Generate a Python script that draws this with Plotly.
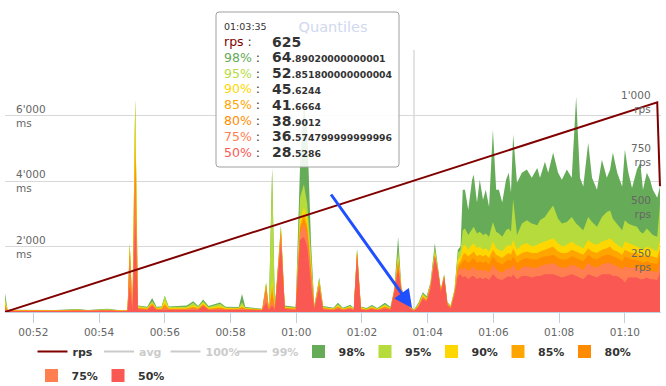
import plotly.graph_objects as go

DAY = "2024-01-01 "

# ---------------- data ----------------
times = [
    "00:51:08", "00:51:13", "00:52:40", "00:53:20", "00:53:40", "00:54:15", "00:54:35", "00:54:52", "00:54:56", "00:55:01",
    "00:55:06", "00:55:11", "00:55:28", "00:55:37", "00:55:45", "00:55:54", "00:56:00", "00:56:07", "00:56:40", "00:56:52",
    "00:57:01", "00:57:10", "00:57:20", "00:57:41", "00:57:51", "00:58:15", "00:58:21", "00:58:27", "00:58:58", "00:59:05",
    "00:59:10", "00:59:16", "00:59:21", "00:59:32", "00:59:39", "00:59:59", "01:00:07", "01:00:14", "01:00:20", "01:00:27",
    "01:00:33", "01:00:42", "01:00:49", "01:01:08", "01:01:16", "01:01:25", "01:01:39", "01:01:45", "01:01:51", "01:01:58",
    "01:02:08", "01:02:18", "01:02:28", "01:02:42", "01:02:52", "01:02:59", "01:03:06", "01:03:12", "01:03:20", "01:03:28",
    "01:03:35", "01:03:43", "01:03:51", "01:03:58", "01:04:05", "01:04:13", "01:04:19", "01:04:24", "01:04:30", "01:04:36",
    "01:04:42", "01:04:49", "01:04:55", "01:05:00",
    "01:05:04", "01:05:08", "01:05:14", "01:05:21", "01:05:24", "01:05:30", "01:05:35", "01:05:41", "01:05:46", "01:05:52",
    "01:05:59", "01:06:05", "01:06:10", "01:06:16", "01:06:23", "01:06:28", "01:06:32", "01:06:36", "01:06:43", "01:06:52",
    "01:07:01", "01:07:10", "01:07:20", "01:07:25", "01:07:34", "01:07:40", "01:07:49", "01:07:58", "01:08:05", "01:08:14",
    "01:08:23", "01:08:31", "01:08:38", "01:08:44", "01:08:53", "01:09:00", "01:09:09", "01:09:18", "01:09:27", "01:09:33",
    "01:09:38", "01:09:46", "01:09:55", "01:10:00", "01:10:06", "01:10:13", "01:10:22", "01:10:28", "01:10:33", "01:10:40",
    "01:10:46", "01:10:51", "01:10:59", "01:11:04",
]

p98 = [
    600, 70, 60, 90, 60, 100, 60, 60, 2100, 90,
    6500, 200, 160, 430, 160, 170, 500, 170, 200, 330,
    180, 380, 180, 290, 160, 150, 550, 150, 100, 900,
    100, 4400, 150, 2650, 200, 150, 4500, 6300, 5600, 2100,
    200, 1050, 180, 130, 280, 130, 220, 100, 1950, 170,
    120, 210, 120, 280, 150, 700, 2300, 750, 380, 200,
    64.89020000000001, 280, 600, 480, 900, 2100, 1350, 700, 1150, 300,
    200, 700, 1900, 2000,
    3730, 3730, 3120, 4040, 4190, 3340, 4040, 3430, 3730, 3210,
    5570, 3730, 3730, 3340, 4040, 4250, 3640, 5420, 3950, 4250,
    4350, 4100, 4400, 4100, 4590, 4250, 4870, 4250, 4040, 4350,
    4100, 6580, 4100, 3830, 5170, 4100, 3730, 4650, 4100, 4350,
    4870, 4250, 3830, 4960, 4280, 3790, 4350, 4560, 3730, 4250,
    4040, 3730, 3490, 3830,
]

p95 = [
    450, 60, 50, 80, 50, 85, 50, 50, 2080, 80,
    6480, 180, 140, 330, 140, 150, 480, 150, 160, 280,
    160, 330, 150, 250, 140, 130, 300, 130, 90, 880,
    90, 4350, 130, 2600, 170, 130, 3500, 3900, 3300, 1800,
    170, 1000, 160, 110, 240, 110, 190, 90, 1900, 150,
    100, 180, 100, 240, 130, 680, 1900, 720, 360, 180,
    52.851800000000004, 250, 560, 440, 850, 1950, 1300, 680, 1120, 280,
    180, 660, 1800, 1900,
    2500, 2550, 2350, 2550, 2600, 2400, 2450, 2350, 2400, 2300,
    2750, 2450, 2400, 2300, 2500, 2550, 2450, 3450, 2350, 2700,
    2800, 2700, 2650, 2800, 2900, 3050, 3250, 2850, 2700, 2750,
    2900, 2700, 2600, 2500, 2900, 2750, 2600, 2900, 3050, 3100,
    2850, 2700, 2500, 2800, 2700, 2650, 2600, 2450, 2400, 2550,
    2450, 2350, 2300, 3300,
]

p90 = [
    350, 50, 45, 70, 45, 70, 45, 45, 2050, 70,
    6450, 150, 120, 280, 120, 120, 350, 120, 130, 200,
    130, 280, 120, 180, 120, 110, 200, 110, 80, 860,
    80, 1000, 110, 2550, 150, 110, 2800, 3200, 2900, 1500,
    150, 950, 140, 100, 200, 100, 160, 80, 1850, 130,
    90, 150, 90, 200, 110, 660, 1700, 700, 340, 160,
    45.6244, 220, 520, 400, 820, 1800, 1280, 660, 1100, 260,
    160, 620, 1600, 1700,
    2000, 2050, 1900, 2050, 2100, 1950, 2000, 1900, 1950, 1850,
    2150, 1950, 1900, 1850, 2000, 2050, 2000, 2200, 1900, 2050,
    2100, 2000, 2050, 2100, 2150, 2200, 2250, 2100, 2000, 2050,
    2150, 2050, 2000, 1950, 2200, 2100, 2050, 2150, 2200, 2250,
    2150, 2050, 1950, 2150, 2100, 2050, 2000, 1950, 1900, 2000,
    1950, 1900, 1850, 2200,
]

p85 = [
    250, 45, 40, 60, 40, 60, 40, 40, 1950, 60,
    5200, 130, 100, 250, 100, 100, 250, 100, 110, 160,
    110, 240, 100, 140, 100, 100, 150, 100, 70, 820,
    70, 800, 100, 2500, 130, 100, 2650, 3000, 2650, 1400,
    130, 900, 120, 90, 170, 90, 140, 70, 1820, 110,
    80, 130, 80, 170, 100, 650, 1600, 690, 330, 150,
    41.6664, 200, 480, 380, 800, 1750, 1260, 650, 1090, 250,
    150, 600, 1450, 1550,
    1750, 1800, 1700, 1800, 1850, 1700, 1750, 1700, 1750, 1650,
    1900, 1750, 1700, 1650, 1750, 1800, 1750, 1950, 1700, 1800,
    1850, 1800, 1800, 1850, 1900, 1950, 2000, 1850, 1800, 1800,
    1900, 1850, 1800, 1750, 1950, 1850, 1800, 1900, 1950, 2000,
    1900, 1850, 1750, 1900, 1850, 1800, 1800, 1750, 1700, 1750,
    1700, 1700, 1650, 1950,
]

p80 = [
    200, 40, 38, 55, 38, 55, 38, 38, 1800, 55,
    4800, 120, 90, 230, 90, 90, 200, 90, 95, 140,
    95, 220, 90, 120, 90, 90, 130, 90, 65, 780,
    65, 600, 90, 2450, 120, 90, 2550, 2850, 2500, 1300,
    120, 850, 110, 80, 150, 80, 130, 65, 1800, 100,
    70, 120, 70, 150, 90, 640, 1500, 680, 320, 140,
    38.9012, 190, 460, 360, 780, 1720, 1250, 640, 1080, 240,
    140, 580, 1350, 1450,
    1550, 1600, 1500, 1600, 1650, 1500, 1550, 1500, 1550, 1450,
    1700, 1550, 1500, 1450, 1550, 1600, 1550, 1700, 1500, 1600,
    1650, 1600, 1600, 1650, 1700, 1700, 1750, 1650, 1600, 1600,
    1700, 1650, 1600, 1550, 1750, 1650, 1600, 1700, 1750, 1750,
    1700, 1650, 1550, 1700, 1650, 1600, 1600, 1550, 1500, 1550,
    1500, 1500, 1450, 1750,
]

p75 = [
    150, 38, 35, 50, 35, 50, 35, 35, 1600, 50,
    4200, 110, 80, 210, 80, 80, 150, 80, 85, 120,
    85, 200, 80, 100, 80, 80, 110, 80, 60, 700,
    60, 400, 80, 2400, 110, 80, 2400, 2700, 2350, 1200,
    110, 800, 100, 70, 130, 70, 120, 60, 1780, 90,
    60, 110, 60, 130, 80, 630, 1400, 670, 310, 130,
    36.574799999999996, 180, 440, 350, 760, 1700, 1240, 630, 1070, 230,
    130, 560, 1250, 1350,
    1300, 1350, 1250, 1350, 1400, 1250, 1300, 1250, 1300, 1200,
    1450, 1300, 1250, 1200, 1300, 1350, 1300, 1450, 1250, 1350,
    1400, 1350, 1350, 1400, 1450, 1450, 1500, 1400, 1350, 1350,
    1450, 1400, 1350, 1300, 1500, 1400, 1350, 1450, 1500, 1500,
    1450, 1400, 1300, 1400, 1350, 1350, 1350, 1300, 1250, 1300,
    1250, 1250, 1200, 1500,
]

p50 = [
    80, 30, 28, 40, 28, 40, 28, 28, 800, 35,
    2800, 80, 60, 180, 60, 60, 80, 60, 60, 80,
    60, 180, 60, 70, 60, 60, 70, 60, 50, 300,
    50, 200, 60, 2100, 90, 60, 2200, 2300, 2000, 800,
    90, 720, 80, 50, 100, 50, 90, 50, 1700, 70,
    50, 90, 50, 100, 60, 600, 1300, 640, 290, 110,
    28.5286, 150, 400, 320, 700, 1650, 1200, 600, 1050, 210,
    110, 520, 1100, 1150,
    1050, 1100, 1000, 1100, 1100, 1000, 1050, 1000, 1050, 980,
    1150, 1050, 1000, 980, 1050, 1100, 1050, 1150, 1000, 1100,
    1100, 1050, 1100, 1100, 1150, 1150, 1150, 1100, 1050, 1100,
    1150, 1100, 1050, 1000, 1150, 1100, 1050, 1150, 1150, 1150,
    1100, 1100, 1000, 900, 1050, 1050, 1050, 1000, 1000, 1050,
    1000, 1000, 980, 1200,
]

rps_times = ["00:51:08", "01:03:35", "01:10:59", "01:11:04"]
rps = [0, 625, 1000, 600]

hover_time = "01:03:35"

y_ticks = [2000, 4000, 6000, 8000]
y_ticktext = ["2'000<br>ms", "4'000<br>ms", "6'000<br>ms", ""]
y2_ticks = [250, 500, 750, 1000]
y2_ticktext = ["250<br>rps", "500<br>rps", "750<br>rps", "1'000<br>rps"]

quantiles = [
    ("98%", p98, "#66ab58"),
    ("95%", p95, "#b5dc3c"),
    ("90%", p90, "#ffd700"),
    ("85%", p85, "#ffa500"),
    ("80%", p80, "#ff8c00"),
    ("75%", p75, "#ff7f50"),
    ("50%", p50, "#fa5852"),
]
for _, vals, _ in quantiles:
    assert len(vals) == len(times)

RPS_COLOR = "#800000"
FONT = "DejaVu Sans"
TICK_COLOR = "#666666"

tx = [DAY + t for t in times]
rx = [DAY + t for t in rps_times]

fig = go.Figure()

for name, vals, col in quantiles:
    fig.add_trace(go.Scatter(
        x=tx, y=vals, mode="lines", name=name,
        line=dict(width=0, color=col), fill="tozeroy", fillcolor=col,
        showlegend=False, hoverinfo="skip",
    ))

fig.add_trace(go.Scatter(
    x=rx, y=rps, yaxis="y2", mode="lines", name="rps",
    line=dict(color=RPS_COLOR, width=2), hoverinfo="skip",
))

for nm in ["avg", "100%", "99%"]:
    fig.add_trace(go.Scatter(
        x=[None], y=[None], mode="lines", visible="legendonly",
        name="<span style='color:#999999'>%s</span>" % nm,
        line=dict(color="#999999", width=2),
    ))

for name, vals, col in quantiles:
    fig.add_trace(go.Scatter(
        x=[None], y=[None], mode="markers", name=name,
        marker=dict(symbol="square", size=13, color=col),
        legend="legend2" if name in ("75%", "50%") else "legend",
    ))

# pixel -> paper helpers for the static tooltip / arrow overlay
PL, PR, PT, PB = 5, 661, 50, 312
def px(x):
    return (x - PL) / (PR - PL)
def py(y):
    return (PB - y) / (PB - PT)

# tooltip box
x0, x1, y0, y1 = px(216), px(399), py(167), py(12)
dx, dy = 3 / (PR - PL), 3 / (PB - PT)
path = (f"M{x0+dx},{y1} L{x1-dx},{y1} Q{x1},{y1} {x1},{y1-dy} L{x1},{y0+dy} "
        f"Q{x1},{y0} {x1-dx},{y0} L{x0+dx},{y0} Q{x0},{y0} {x0},{y0+dy} "
        f"L{x0},{y1-dy} Q{x0},{y1} {x0+dx},{y1} Z")

shapes = [
    dict(type="line", xref="x", yref="paper", x0=DAY + hover_time, x1=DAY + hover_time,
         y0=0, y1=1, line=dict(color="#c8c8c8", width=1), layer="below"),
    dict(type="path", xref="paper", yref="paper", path=path,
         fillcolor="rgba(255,255,255,0.88)", line=dict(color="#a0a0a0", width=1), layer="above"),
]

annotations = []

# y-axis tick labels drawn inside the plot (left: ms, right: rps)
for v, t in zip(y_ticks, y_ticktext):
    if t:
        annotations.append(dict(
            xref="paper", yref="y", x=px(14), y=v, text=t, showarrow=False,
            xanchor="left", yanchor="middle", align="left",
            font=dict(family=FONT, size=10.5, color=TICK_COLOR)))
for v, t in zip(y2_ticks, y2_ticktext):
    annotations.append(dict(
        xref="paper", yref="y2", x=px(653), y=v, text=t, showarrow=False,
        xanchor="right", yanchor="middle", align="right",
        font=dict(family=FONT, size=10.5, color=TICK_COLOR)))

idx = times.index(hover_time)
ridx = rps_times.index(hover_time)
annotations.append(dict(
    xref="paper", yref="paper", x=px(222), y=py(26), text=hover_time,
    showarrow=False, xanchor="left", yanchor="middle",
    font=dict(family=FONT, size=9.5, color="#333333")))
rows = [("rps", RPS_COLOR, str(rps[ridx]))]
for name, vals, col in quantiles:
    rows.append((name, col, repr(vals[idx])))
for k, (lab, col, val) in enumerate(rows):
    yy = py(41.5 + 15.8 * k)
    annotations.append(dict(
        xref="paper", yref="paper", x=px(222), y=yy,
        text=f"<span style='color:{col}'>{lab}</span> :",
        showarrow=False, xanchor="left", yanchor="middle",
        font=dict(family=FONT, size=12.5, color="#333333")))
    if "." in val:
        ip, dp = val.split(".")
        vtxt = f"<b>{ip}<span style='font-size:9.3px'>.{dp}</span></b>"
    else:
        vtxt = f"<b>{val}</b>"
    annotations.append(dict(
        xref="paper", yref="paper", x=px(270), y=yy, text=vtxt,
        showarrow=False, xanchor="left", yanchor="middle",
        font=dict(family=FONT, size=14, color="#333333")))

# blue arrow
annotations.append(dict(
    xref="paper", yref="paper", x=px(412), y=py(308), text="",
    showarrow=True, ax=-82, ay=-115, arrowhead=2, arrowsize=1.2,
    arrowwidth=3, arrowcolor="#1f4fff", standoff=0,
))

legend_common = dict(
    orientation="h", xanchor="left", yanchor="top",
    entrywidth=21.5, entrywidthmode="pixels", itemwidth=30,
    font=dict(family=FONT, size=11, weight="bold", color="#333333"),
    bgcolor="rgba(0,0,0,0)", borderwidth=0,
)

fig.update_layout(
    width=666, height=386,
    margin=dict(l=PL, r=666 - PR, t=PT, b=386 - PB, autoexpand=False),
    paper_bgcolor="white", plot_bgcolor="white",
    font=dict(family=FONT, size=10.5, color=TICK_COLOR),
    hovermode=False,
    title=dict(text="Quantiles", x=333 / 666, xref="container", xanchor="center",
               y=1 - 27 / 386, yref="container", yanchor="middle",
               font=dict(family=FONT, size=14.5, color="#d0d9ef")),
    xaxis=dict(
        type="date", range=[DAY + "00:51:08.3", DAY + "01:11:05.9"],
        tickformat="%H:%M", dtick=120000, tick0=DAY + "00:52:00",
        ticks="outside", ticklen=10, tickcolor="#c0d0e0", tickwidth=1,
        showgrid=False, showline=True, linecolor="#c0d0e0", zeroline=False,
        automargin=False,
        tickfont=dict(family=FONT, size=10.5, color=TICK_COLOR),
    ),
    yaxis=dict(
        range=[0, 8000], tickvals=y_ticks, showticklabels=False,
        showgrid=True, gridcolor="#d8d8d8", gridwidth=1, zeroline=False,
        ticks="", automargin=False,
    ),
    yaxis2=dict(
        overlaying="y", side="right", range=[0, 1250],
        tickvals=y2_ticks, showticklabels=False, showgrid=False, zeroline=False,
        ticks="", automargin=False,
    ),
    legend=dict(x=px(32.5), y=py(337), **legend_common),
    legend2=dict(x=px(31.5), y=py(361), **legend_common),
    shapes=shapes,
    annotations=annotations,
)

fig.write_html("out.html", config={"displayModeBar": False},
               post_script="document.body.style.margin='0px';")
